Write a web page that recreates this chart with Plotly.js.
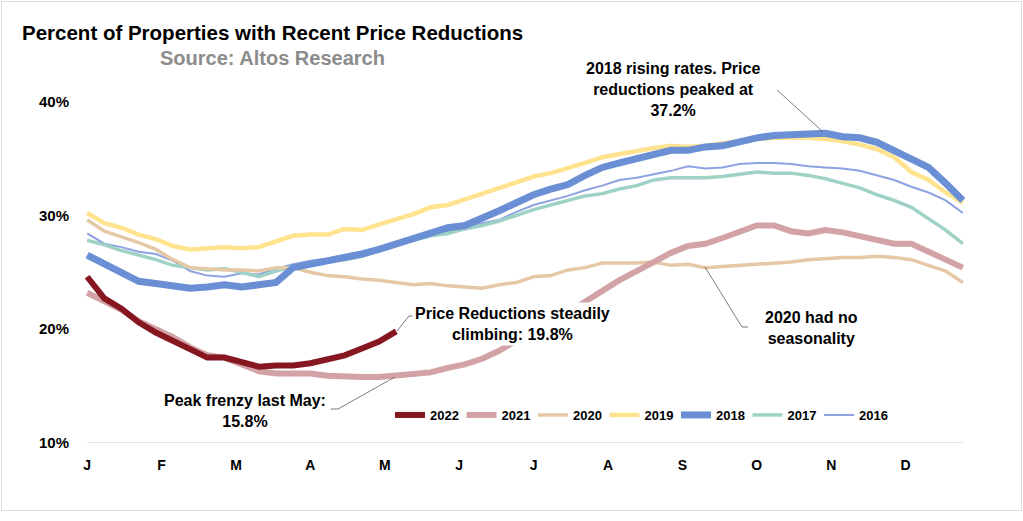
<!DOCTYPE html>
<html>
<head>
<meta charset="utf-8">
<script src="https://cdn.plot.ly/plotly-3.0.1.min.js"></script>
<style>
  html, body { margin: 0; padding: 0; background: #fff; }
  #wrap { position: relative; width: 1023px; height: 521px; }
  #chart { width: 1023px; height: 521px; }
  #frame { position: absolute; left: 1px; top: 1px; width: 1019px; height: 508px; border: 1px solid #dcdcdc; pointer-events: none; }
</style>
</head>
<body>
<div id="wrap"><div id="chart"></div><div id="frame"></div></div>
<script>
// ---- Data (weekly % of properties with recent price reductions) ----
const monthLabels = ['J','F','M','A','M','J','J','A','S','O','N','D'];
const yTickVals = [10, 20, 30, 40];
const yTickLabels = ['10%', '20%', '30%', '40%'];

const y2022 = [24.6, 22.7, 21.8, 20.6, 19.7, 19.0, 18.2, 17.5, 17.5, 17.1, 16.7, 16.8, 16.8, 17.0, 17.3, 17.7, 18.3, 18.9, 19.8];

const y2021 = [23.2, 22.5, 21.7, 20.7, 20.0, 19.3, 18.4, 17.7, 17.5, 16.9,
               16.3, 16.1, 16.1, 16.1, 15.9, 15.8, 15.8, 15.8, 15.9, 16.0,
               16.2, 16.6, 16.9, 17.4, 18.1, 19.0, 19.8, 20.7, 21.4, 22.4,
               23.4, 24.3, 25.1, 25.9, 26.7, 27.3, 27.5, 28.0, 28.6, 29.1,
               29.1, 28.6, 28.4, 28.7, 28.5, 28.2, 27.9, 27.5, 27.5, 26.8,
               26.1, 25.4];

const y2020 = [29.6, 28.6, 28.1, 27.6, 27.0, 26.1, 25.4, 25.3, 25.2, 25.2,
               25.1, 25.4, 25.4, 25.0, 24.7, 24.6, 24.4, 24.3, 24.1, 23.9,
               24.0, 23.8, 23.7, 23.6, 23.9, 24.1, 24.6, 24.7, 25.2, 25.4,
               25.8, 25.8, 25.8, 25.9, 25.6, 25.7, 25.4, 25.5, 25.6, 25.7,
               25.8, 25.9, 26.1, 26.2, 26.3, 26.3, 26.4, 26.3, 26.1, 25.6,
               25.1, 24.1];

const y2019 = [30.2, 29.3, 28.9, 28.3, 27.9, 27.3, 27.0, 27.1, 27.2, 27.1,
               27.2, 27.7, 28.2, 28.3, 28.3, 28.8, 28.7, 29.2, 29.6, 30.1,
               30.7, 30.9, 31.4, 31.9, 32.4, 33.0, 33.4, 33.7, 34.1, 34.6,
               35.1, 35.4, 35.6, 35.9, 36.1, 36.0, 36.1, 36.3, 36.5, 36.7,
               36.8, 36.8, 36.8, 36.7, 36.5, 36.2, 35.8, 35.1, 33.8, 33.1,
               32.0, 31.1];

const y2018 = [26.5, 25.7, 25.0, 24.2, 24.0, 23.8, 23.6, 23.7, 23.9, 23.7,
               23.9, 24.1, 25.4, 25.7, 26.0, 26.2, 26.6, 27.0, 27.5, 27.9,
               28.4, 28.9, 29.1, 29.7, 30.4, 31.1, 31.8, 32.3, 32.7, 33.5,
               34.2, 34.6, 35.0, 35.3, 35.7, 35.7, 36.0, 36.1, 36.5, 36.8,
               37.0, 37.1, 37.2, 37.2, 36.9, 36.8, 36.4, 35.7, 35.0, 34.2,
               32.8, 31.3];

const y2017 = [27.8, 27.4, 26.9, 26.5, 26.1, 25.6, 25.4, 25.2, 25.3, 25.0,
               24.6, 25.1, 25.5, 25.8, 26.0, 26.1, 26.4, 26.9, 27.5, 27.8,
               28.2, 28.4, 28.8, 29.1, 29.5, 30.0, 30.5, 30.9, 31.3, 31.7,
               31.9, 32.3, 32.6, 33.1, 33.3, 33.3, 33.3, 33.4, 33.6, 33.8,
               33.7, 33.7, 33.5, 33.2, 32.8, 32.4, 31.8, 31.3, 30.7, 29.7,
               28.7, 27.5];

const y2016 = [28.4, 27.5, 27.2, 26.8, 26.6, 26.0, 25.1, 24.7, 24.6, 24.9,
               24.8, 25.3, 25.7, 26.0, 26.2, 26.5, 26.8, 27.2, 27.6, 28.0,
               28.2, 28.6, 28.9, 29.3, 29.6, 30.3, 30.9, 31.3, 31.7, 32.2,
               32.6, 33.1, 33.3, 33.6, 33.9, 34.3, 34.1, 34.2, 34.5, 34.6,
               34.6, 34.5, 34.3, 34.2, 34.1, 33.9, 33.5, 33.1, 32.5, 32.0,
               31.3, 30.2];

// ---- Layout geometry ----
const W = 1023, H = 521;
const M = {l: 82, r: 55, t: 90, b: 78};
const xr = [-0.3, 51.3], yr = [10, 41];
const pw = W - M.l - M.r, ph = H - M.t - M.b;
const X = px => xr[0] + (px - M.l) / pw * (xr[1] - xr[0]);
const Y = py => yr[1] - (py - M.t) / ph * (yr[1] - yr[0]);
const PX = px => (px - M.l) / pw;
const PY = py => (H - M.b - py) / ph;

const weeks = arr => arr.map((_, i) => i);
const FONT = 'Liberation Sans, Arial, Helvetica, sans-serif';

function tr(name, ys, color, width, rank) {
  return {
    type: 'scatter', mode: 'lines', name: name,
    x: weeks(ys), y: ys,
    line: {color: color, width: width, shape: 'linear'},
    legendrank: rank, hoverinfo: 'skip'
  };
}

// drawing order (bottom -> top); legend order set by legendrank
const data = [
  tr('2016', y2016, '#8ea2e2', 2, 7),
  tr('2017', y2017, '#9fd2c6', 3.5, 6),
  tr('2020', y2020, '#e5c9a6', 3.5, 3),
  tr('2019', y2019, '#ffe38f', 4.5, 4),
  tr('2018', y2018, '#6a8fd4', 7, 5),
  tr('2021', y2021, '#d2a2a6', 6, 2),
  tr('2022', y2022, '#861620', 6, 1)
];

const annFont = {family: FONT, size: 16, color: '#000', weight: 700};

const layout = {
  width: W, height: H,
  margin: M,
  paper_bgcolor: 'rgba(0,0,0,0)', plot_bgcolor: 'rgba(0,0,0,0)',
  font: {family: FONT, color: '#000'},
  showlegend: true,
  title: {
    text: 'Percent of Properties with Recent Price Reductions',
    x: 22 / W, xref: 'container', xanchor: 'left',
    y: 1 - 33 / H, yref: 'container', yanchor: 'middle',
    font: {family: FONT, size: 20.5, color: '#000', weight: 700}
  },
  xaxis: {
    range: xr, showgrid: false, zeroline: false, showline: false,
    tickmode: 'array',
    tickvals: monthLabels.map((_, i) => i * 52 / 12),
    ticktext: monthLabels,
    ticks: '', ticklabelstandoff: 12,
    tickfont: {family: FONT, size: 14, color: '#000', weight: 700}
  },
  yaxis: {
    range: yr, showgrid: false, zeroline: false, showline: false,
    tickmode: 'array', tickvals: yTickVals, ticktext: yTickLabels,
    ticks: '', ticklabelstandoff: 12,
    tickfont: {family: FONT, size: 15, color: '#000', weight: 700}
  },
  legend: {
    orientation: 'h', x: PX(390), xanchor: 'left', y: PY(415), yanchor: 'middle',
    entrywidth: 26.5, entrywidthmode: 'pixels',
    font: {family: FONT, size: 13, color: '#000', weight: 700},
    bgcolor: 'rgba(0,0,0,0)', traceorder: 'normal'
  },
  shapes: [
    // x-axis baseline
    {type: 'line', xref: 'x', yref: 'y', x0: 0, x1: 51, y0: 10, y1: 10,
     line: {color: '#d9d9d9', width: 1.5}, layer: 'below'},
    // leader lines
    {type: 'path', xref: 'x', yref: 'y',
     path: `M ${X(766)} ${Y(86)} L ${X(775)} ${Y(88)} L ${X(823)} ${Y(132)}`,
     line: {color: '#595959', width: 0.8}},
    {type: 'path', xref: 'x', yref: 'y',
     path: `M ${X(397)} ${Y(331)} L ${X(409)} ${Y(316)} L ${X(415)} ${Y(316)}`,
     line: {color: '#595959', width: 0.8}},
    {type: 'path', xref: 'x', yref: 'y',
     path: `M ${X(705)} ${Y(267)} L ${X(742)} ${Y(327)} L ${X(748)} ${Y(327)}`,
     line: {color: '#595959', width: 0.8}},
    {type: 'path', xref: 'x', yref: 'y',
     path: `M ${X(395)} ${Y(377)} L ${X(338)} ${Y(409)} L ${X(331)} ${Y(409)}`,
     line: {color: '#595959', width: 0.8}}
  ],
  annotations: [
    {text: 'Source: Altos Research', xref: 'paper', yref: 'paper',
     x: PX(272), y: PY(58), xanchor: 'center', yanchor: 'middle', showarrow: false,
     font: {family: FONT, size: 20, color: '#8c8c8c', weight: 700}},
    {text: '2018 rising rates. Price<br>reductions peaked at<br>37.2%', xref: 'paper', yref: 'paper',
     x: PX(673), y: PY(89), xanchor: 'center', yanchor: 'middle', showarrow: false, align: 'center',
     font: annFont},
    {text: 'Price Reductions steadily<br>climbing: 19.8%', xref: 'paper', yref: 'paper',
     x: PX(512), y: PY(324), xanchor: 'center', yanchor: 'middle', showarrow: false, align: 'center',
     bgcolor: '#ffffff', borderpad: 2, font: annFont},
    {text: '2020 had no<br>seasonality', xref: 'paper', yref: 'paper',
     x: PX(811), y: PY(328), xanchor: 'center', yanchor: 'middle', showarrow: false, align: 'center',
     font: annFont},
    {text: 'Peak frenzy last May:<br>15.8%', xref: 'paper', yref: 'paper',
     x: PX(245), y: PY(411), xanchor: 'center', yanchor: 'middle', showarrow: false, align: 'center',
     font: annFont}
  ]
};

Plotly.newPlot('chart', data, layout, {displayModeBar: false, staticPlot: true});
</script>
</body>
</html>
